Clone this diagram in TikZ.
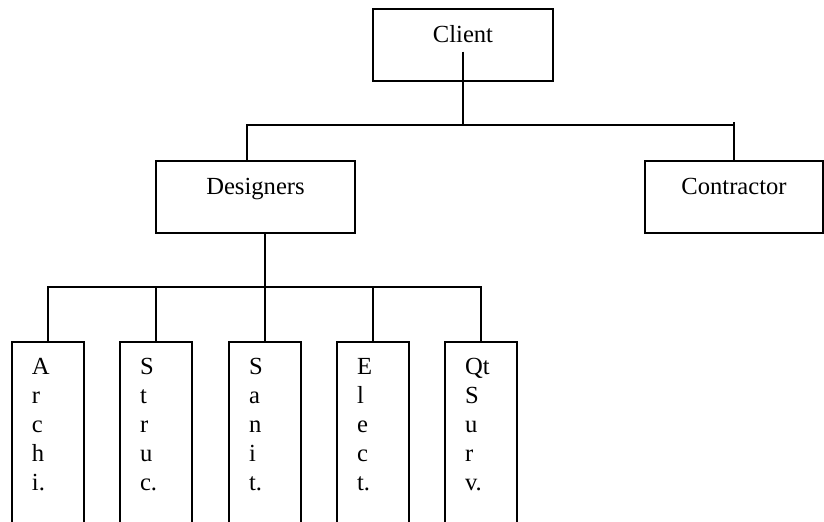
\documentclass[tikz,border=0pt]{standalone}
\usepackage{fontspec}
\setmainfont{Liberation Serif}
\newcommand{\letters}[1]{\parbox[t]{16pt}{\raggedright #1}}

\begin{document}
\begin{tikzpicture}[x=0.5pt, y=-0.5pt, line width=1pt,
    font=\fontsize{12.3pt}{14.5pt}\selectfont,
    box/.style={rectangle, draw, minimum height=36pt, inner xsep=0pt, inner ysep=3pt,
      text height=13.75pt, text depth=16.25pt},
    trade/.style={rectangle, draw, anchor=north, minimum width=36pt, inner sep=0pt,
      text height=16pt, text depth=110pt}]
  \useasboundingbox (0, 0) rectangle (824, 521);
  \clip (0, 0) rectangle (824, 521);
  % Nodes
  \node (client) [box, minimum width=90pt] at (463, 45) {Client};
  \node (designers) [box, minimum width=99.5pt] at (255.5, 197) {Designers};
  \node (contractor) [box, minimum width=89pt] at (734, 197) {Contractor};
  \node (archi) [trade] at (48, 341) {\letters{A\\r\\c\\h\\i.}};
  \node (struc) [trade] at (156, 341) {\letters{S\\t\\r\\u\\c.}};
  \node (sanit) [trade] at (265, 341) {\letters{S\\a\\n\\i\\t.}};
  \node (elect) [trade] at (373, 341) {\letters{E\\l\\e\\c\\t.}};
  \node (qtsurv) [trade] at (481, 341) {\letters{Qt\\S\\u\\r\\v.}};
  % Lines
  \coordinate (topbar) at (463, 125);
  \coordinate (botbar) at (265, 287);
  \draw ([yshift=-4.5pt]client.base) -- (client.base |- topbar);
  \draw ([xshift=-4.25pt]designers.north) |- (contractor.north |- topbar);
  \draw (contractor.north) -- ([yshift=1.5pt]contractor.north |- topbar);
  \draw (sanit.north |- designers.south) -- (sanit.north);
  \draw (archi.north) -- (archi.north |- botbar) -- (qtsurv.north |- botbar) -- (qtsurv.north);
  \foreach \n in {struc, elect}
    \draw (\n.north) -- (\n.north |- botbar);
\end{tikzpicture}
\end{document}
